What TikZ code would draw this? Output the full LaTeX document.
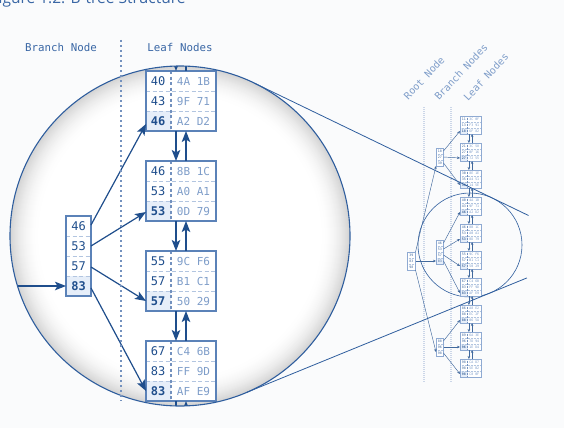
\documentclass[tikz,border=0pt]{standalone}
\usepackage{fontspec}
\setmainfont{DejaVu Sans}
\newfontfamily\codefont{DejaVu Sans Mono}
\newfontfamily\captionfont{Open Sans}
\usetikzlibrary{arrows.meta,calc}

\definecolor{ink}{HTML}{1F4E8C}
\definecolor{frame}{HTML}{5B82B8}
\definecolor{pale}{HTML}{7E9DC9}
\definecolor{sepc}{HTML}{B2C5E0}
\definecolor{hlfill}{HTML}{E6EEF9}
\definecolor{head}{HTML}{3A67A5}
\definecolor{ring}{HTML}{2F5E9E}
\definecolor{guide}{HTML}{7391BE}
\definecolor{faint}{HTML}{CBD6E8}
\definecolor{minif}{HTML}{8FAAD2}
\definecolor{bg}{HTML}{FAFBFC}

\tikzset{
  keytext/.style={font=\codefont\fontsize{12}{12}\selectfont, text=ink, inner sep=0pt},
  keybold/.style={font=\codefont\bfseries\fontsize{12}{12}\selectfont, text=ink, inner sep=0pt},
  valtext/.style={font=\codefont\fontsize{11}{11}\selectfont, text=pale, inner sep=0pt},
  headtext/.style={font=\codefont\fontsize{10.8}{11}\selectfont, text=head, inner sep=0pt},
  sidetext/.style={font=\codefont\fontsize{10}{10}\selectfont, text=pale, inner sep=0pt, rotate=47},
  rowline/.style={draw=sepc, line width=1pt, dash pattern=on 4pt off 2.5pt},
  colline/.style={draw=guide, line width=1.2pt, dash pattern=on 3pt off 2.5pt},
  leafframe/.style={draw=frame, line width=1.4pt, minimum width=70pt, minimum height=60pt, inner sep=0pt, outer sep=0pt},
  branchframe/.style={draw=frame, line width=1.4pt, minimum width=25pt, minimum height=80pt, inner sep=0pt, outer sep=0pt},
  link/.style={draw=ink, line width=1.2pt, -{Stealth[length=11pt,width=8.5pt,inset=2.5pt]}},
  divider/.style={draw=guide, line width=1.6pt, dash pattern=on 1.8pt off 3.2pt},
  tether/.style={draw=ring, line width=0.8pt},
  % miniature overview
  miniframe/.style={draw=minif, line width=0.5pt, inner sep=0pt, outer sep=0pt},
  minikey/.style={font=\codefont\fontsize{3.3}{3.3}\selectfont, text=ink!85, inner sep=0pt},
  minikeyb/.style={font=\codefont\bfseries\fontsize{3.3}{3.3}\selectfont, text=ink!85, inner sep=0pt},
  minival/.style={font=\codefont\fontsize{3.3}{3.3}\selectfont, text=pale, inner sep=0pt},
  minirow/.style={draw=sepc, line width=0.35pt, dash pattern=on 0.9pt off 0.6pt},
  minicol/.style={draw=guide, line width=0.35pt, dash pattern=on 0.9pt off 0.6pt},
  minilink/.style={draw=ink!85, line width=0.45pt, -{Stealth[length=3pt,width=2.6pt]}},
  miniguide/.style={draw=faint, line width=1.6pt, dash pattern=on 1pt off 1pt},
}

% leaf page: name, left, top, then key/value for three rows
\newcommand{\bigleaf}[9]{%
  \fill[white] (#2,#3) rectangle (#2+70,#3+60);
  \fill[hlfill] (#2,#3+40) rectangle (#2+25,#3+60);
  \draw[rowline] (#2,#3+20) -- (#2+70,#3+20);
  \draw[rowline] (#2,#3+40) -- (#2+70,#3+40);
  \draw[colline] (#2+25,#3) -- (#2+25,#3+60);
  \node[leafframe] (#1) at (#2+35,#3+30) {};
  \node[keytext] at (#2+12,#3+10) {#4};
  \node[valtext] at (#2+47.5,#3+10) {#5};
  \node[keytext] at (#2+12,#3+30) {#6};
  \node[valtext] at (#2+47.5,#3+30) {#7};
  \node[keybold] at (#2+12,#3+50) {#8};
  \node[valtext] at (#2+47.5,#3+50) {#9};
}

% small leaf page for the overview
\newcommand{\minileaf}[9]{%
  \fill[white] (#2,#3) rectangle (#2+21,#3+18);
  \fill[hlfill] (#2,#3+12) rectangle (#2+7.5,#3+18);
  \draw[minirow] (#2,#3+6) -- (#2+21,#3+6);
  \draw[minirow] (#2,#3+12) -- (#2+21,#3+12);
  \draw[minicol] (#2+7.5,#3) -- (#2+7.5,#3+18);
  \node[miniframe, minimum width=21pt, minimum height=18pt] (#1) at (#2+10.5,#3+9) {};
  \node[minikey] at (#2+3.75,#3+3) {#4};
  \node[minival] at (#2+14.25,#3+3) {#5};
  \node[minikey] at (#2+3.75,#3+9) {#6};
  \node[minival] at (#2+14.25,#3+9) {#7};
  \node[minikeyb] at (#2+3.75,#3+15) {#8};
  \node[minival] at (#2+14.25,#3+15) {#9};
}

% small index page: name, left, top, width, rows, keys, highlighted row
\newcommand{\minibranch}[7]{%
  \fill[white] (#2,#3) rectangle (#2+#4,#3+6*#5);
  \ifnum#7>0 \fill[hlfill] (#2,#3+6*#7-6) rectangle (#2+#4,#3+6*#7);\fi
  \foreach \i in {2,...,#5}{\draw[minirow] (#2,#3+6*\i-6) -- (#2+#4,#3+6*\i-6);}
  \node[miniframe, minimum width={#4pt}, minimum height={6pt*#5}] (#1) at (#2+#4/2,#3+3*#5) {};
  \foreach \k [count=\i] in {#6}{\node[minikey] at (#2+#4/2,#3+6*\i-3) {\k};}
}

\begin{document}
\begin{tikzpicture}[x=1pt,y=-1pt]
\useasboundingbox (0,0) rectangle (564,428);
\fill[bg] (0,0) rectangle (564,428);

% caption, running off the top edge
\node[anchor=base west, font=\captionfont\fontsize{15.5}{16}\selectfont, text=head, inner sep=0pt]
  (caption) at (-9.5,3.5) {Figure 1.2: B-tree Structure};

% ---------------- magnified view ----------------
\coordinate (lenscentre) at (180,236);
% grey rim fading to white towards the middle of the lens
\foreach \k [evaluate=\k as \rimtone using {17*(1-\k/30)^2}] in {0,...,30}{
  \fill[black!\rimtone] (lenscentre) circle ({(170-\k)*1pt});
}
\fill[white] (lenscentre) circle (139pt);
\node[circle, minimum size=340pt, inner sep=0pt, outer sep=0pt] (lens) at (lenscentre) {};

\node[headtext] (labBranch) at (61,47) {Branch Node};
\node[headtext] (labLeaf) at (180,47) {Leaf Nodes};

\begin{scope}
  \clip (lenscentre) circle (170pt);

  \bigleaf{L1}{146}{71}{40}{4A 1B}{43}{9F 71}{46}{A2 D2}
  \bigleaf{L2}{146}{161}{46}{8B 1C}{53}{A0 A1}{53}{0D 79}
  \bigleaf{L3}{146}{251}{55}{9C F6}{57}{B1 C1}{57}{50 29}
  \bigleaf{L4}{146}{341}{67}{C4 6B}{83}{FF 9D}{83}{AF E9}

  % branch page
  \fill[white] (66,216) rectangle (91,296);
  \fill[hlfill] (66,276) rectangle (91,296);
  \foreach \yy in {236,256,276} \draw[rowline] (66,\yy) -- (91,\yy);
  \node[branchframe] (B) at (78.5,256) {};
  \node[keytext] at (78.5,226) {46};
  \node[keytext] at (78.5,246) {53};
  \node[keytext] at (78.5,266) {57};
  \node[keybold] at (78.5,286) {83};

  % pointers from the branch page to the leaf pages
  \draw[link] ([yshift=31pt]B.east) -- ([yshift=-23pt]L1.west);
  \draw[link] ([yshift=10pt]B.east) -- ([yshift=-21pt]L2.west);
  \draw[link] ([yshift=-11pt]B.east) -- ([yshift=-20pt]L3.west);
  \draw[link] ([yshift=-32pt]B.east) -- ([yshift=-20pt]L4.west);

  % pointer coming in from the root
  \coordinate (feed) at (2,286);
  \draw[link] (feed) -- ([yshift=-30pt]B.west);

  % doubly linked leaf chain
  \foreach \a/\b in {L1/L2,L2/L3,L3/L4}{
    \draw[link] ([xshift=-5pt]\a.south) -- ([xshift=-5pt]\b.north);
    \draw[link] ([xshift=5pt]\b.north) -- ([xshift=5pt]\a.south);
  }
  \coordinate (prevpage) at (181,40);
  \coordinate (nextpage) at (181,430);
  \draw[link] ([xshift=-5pt]prevpage) -- ([xshift=-5pt]L1.north);
  \draw[link] ([xshift=5pt]L1.north) -- ([xshift=5pt]prevpage);
  \draw[link] ([xshift=-5pt]L4.south) -- ([xshift=-5pt]nextpage);
  \draw[link] ([xshift=5pt]nextpage) -- ([xshift=5pt]L4.south);
\end{scope}

\draw[ring, line width=1.1pt] (lenscentre) circle (170pt);
\draw[divider] (121,40) -- (121,401);

% ---------------- overview of the whole tree ----------------
\node[sidetext] (labRoot) at (424,78) {Root Node};
\node[sidetext] (labBranches) at (461,72) {Branch Nodes};
\node[sidetext] (labLeaves) at (486,77) {Leaf Nodes};

\draw[miniguide] (424,107) -- (424,382);
\draw[miniguide] (451,107) -- (451,382);

\node[circle, draw=ring, line width=0.6pt, minimum size=104pt, inner sep=0pt, outer sep=0pt]
  (inset) at (470,245) {};

\minileaf{m1}{460}{116}{11}{3C 0F}{13}{F3 91}{18}{6F 82}
\minileaf{m2}{460}{143}{21}{3C 58}{27}{0F 16}{27}{72 55}
\minileaf{m3}{460}{170}{30}{8E 1E}{35}{A4 51}{39}{14 5E}
\minileaf{m4}{460}{197}{40}{4A 1B}{43}{9F 71}{46}{A2 D2}
\minileaf{m5}{460}{224}{46}{8B 1C}{53}{A0 A1}{53}{0D 79}
\minileaf{m6}{460}{251}{55}{9C F6}{57}{B1 C1}{57}{50 29}
\minileaf{m7}{460}{278}{67}{C4 6B}{83}{FF 9D}{83}{AF E9}
\minileaf{m8}{460}{305}{86}{A8 E2}{88}{EC 2F}{88}{06 5A}
\minileaf{m9}{460}{332}{89}{6A 3E}{96}{7D 94}{96}{1E D4}
\minileaf{m10}{460}{359}{98}{CA D7}{98}{5E B2}{98}{C8 0F}

\foreach \a/\b in {m1/m2,m2/m3,m3/m4,m4/m5,m5/m6,m6/m7,m7/m8,m8/m9,m9/m10}{
  \draw[minilink] ([xshift=-1.6pt]\a.south) -- ([xshift=-1.6pt]\b.north);
  \draw[minilink] ([xshift=1.6pt]\b.north) -- ([xshift=1.6pt]\a.south);
}

\minibranch{b1}{436}{148}{7.5}{3}{18,27,39}{0}
\minibranch{b2}{436}{240}{7.5}{4}{46,53,57,83}{4}
\minibranch{b3}{436}{338}{7.5}{3}{88,96,98}{0}
\minibranch{r}{407}{252}{8.5}{3}{39,83,98}{0}

\draw[minilink] ([yshift=6pt]b1.east) -- ([yshift=-6pt]m1.west);
\draw[minilink] (b1.east) -- ([yshift=-6pt]m2.west);
\draw[minilink] ([yshift=-6pt]b1.east) -- ([yshift=-6pt]m3.west);
\draw[minilink] ([yshift=9pt]b2.east) -- ([yshift=-6pt]m4.west);
\draw[minilink] ([yshift=3pt]b2.east) -- ([yshift=-6pt]m5.west);
\draw[minilink] ([yshift=-3pt]b2.east) -- ([yshift=-6pt]m6.west);
\draw[minilink] ([yshift=-9pt]b2.east) -- ([yshift=-6pt]m7.west);
\draw[minilink] ([yshift=6pt]b3.east) -- ([yshift=-6pt]m8.west);
\draw[minilink] (b3.east) -- ([yshift=-6pt]m9.west);
\draw[minilink] ([yshift=-6pt]b3.east) -- ([yshift=-6pt]m10.west);

\draw[minilink] (r.north east) -- (b1.south west);
\draw[minilink] (r.east) -- ([yshift=-9pt]b2.west);
\draw[minilink] (r.south east) -- ([yshift=-5pt]b3.west);

% outer tangents joining the lens to the region it enlarges
\draw[tether] (lens.64.2) -- ($(lens.64.2)!1.15!(inset.64.2)$);
\draw[tether] (lens.-67.8) -- ($(lens.-67.8)!1.15!(inset.-67.8)$);
\end{tikzpicture}
\end{document}
